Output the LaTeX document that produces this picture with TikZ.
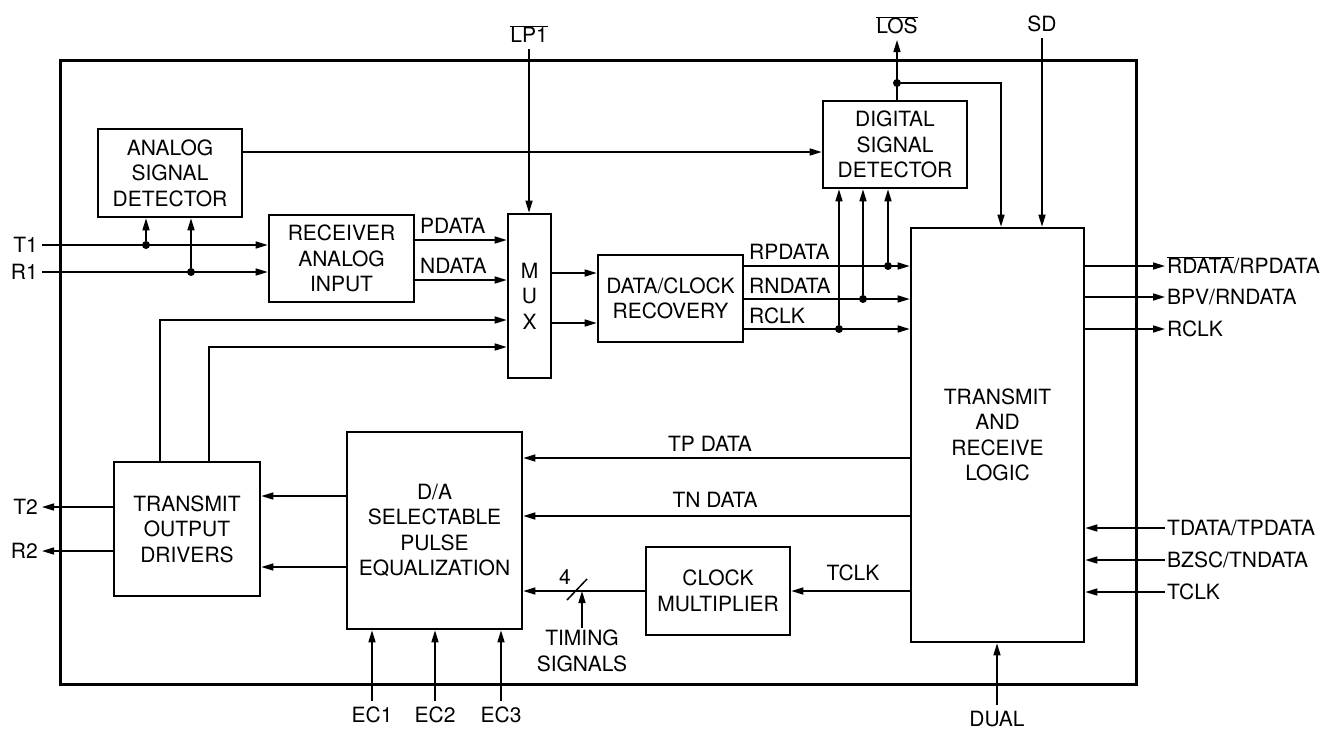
\documentclass[tikz,border=0pt]{standalone}
\usepackage{fontspec}
\setmainfont{TeX Gyre Heros}
\usetikzlibrary{arrows.meta}

\begin{document}
\begin{tikzpicture}[
    x=1pt, y=-1pt,
    every node/.style={font=\fontsize{21}{25.5}\selectfont},
    block/.style={rectangle, draw=black, line width=2.6pt, align=center, inner sep=0pt},
    frame/.style={draw=black, line width=3pt},
    arrow/.style={-{Triangle[length=12pt, width=7pt]}, line width=1.5pt},
    wire/.style={line width=1.5pt},
    dot/.style={circle, fill=black, inner sep=0pt, minimum size=8pt},
    pinl/.style={anchor=east, inner xsep=4pt, inner ysep=0pt, text height=15pt, text depth=0pt},
    pinr/.style={anchor=west, inner xsep=2pt, inner ysep=0pt, text height=15pt, text depth=0pt},
    pint/.style={anchor=south, inner xsep=0pt, inner ysep=6pt, text height=15pt, text depth=0pt},
    pinb/.style={anchor=north, inner xsep=0pt, inner ysep=6pt, text height=15pt, text depth=0pt},
    tag/.style={inner sep=0pt, anchor=base west}
]
\useasboundingbox (0,0) rectangle (1330,732);

% Chip outline
\draw[frame] (60,60) rectangle (1136,684);

% Blocks
\node[block, minimum width=144pt, minimum height=88pt] (asd) at (170,173) {ANALOG\\SIGNAL\\DETECTOR};
\node[block, minimum width=145pt, minimum height=87pt] (rai) at (341.5,258.5) {RECEIVER\\ANALOG\\INPUT};
\node[block, minimum width=43pt, minimum height=164pt] (mux) at (529.5,296) {M\\U\\X};
\node[block, minimum width=145pt, minimum height=87pt] (dcr) at (670.5,298.5) {DATA/CLOCK\\RECOVERY};
\node[block, minimum width=144pt, minimum height=87pt] (dsd) at (895,144.5) {DIGITAL\\SIGNAL\\DETECTOR};
\node[block, minimum width=173pt, minimum height=414pt] (trl) at (997.5,435) {TRANSMIT\\AND\\RECEIVE\\LOGIC};
\node[block, minimum width=175pt, minimum height=197pt] (dspe) at (434.5,530.5) {D/A\\SELECTABLE\\PULSE\\EQUALIZATION};
\node[block, minimum width=146pt, minimum height=134pt] (tod) at (187,529) {TRANSMIT\\OUTPUT\\DRIVERS};
\node[block, minimum width=144pt, minimum height=88pt] (cm) at (718,591) {CLOCK\\MULTIPLIER};

% Pins
\node[pinl] (T1) at (42,245) {T1};
\node[pinl] (R1) at (42,272) {R1};
\node[pinl] (T2) at (42,507) {T2};
\node[pinl] (R2) at (42,551) {R2};
\node[pint] (LP1) at (529,49) {$\overline{\hbox{LP1}}$};
\node[pint] (LOS) at (897,40) {$\overline{\hbox{LOS}}$};
\node[pint] (SD) at (1042,38) {SD};
\node[pinr] (RDATA) at (1165,266) {$\overline{\hbox{RDATA}}$/RPDATA};
\node[pinr] (BPV) at (1165,297) {BPV/RNDATA};
\node[pinr] (RCLK) at (1165,329) {RCLK};
\node[pinr] (TDATA) at (1165,528) {TDATA/TPDATA};
\node[pinr] (BZSC) at (1165,560) {BZSC/TNDATA};
\node[pinr] (TCLK) at (1165,592) {TCLK};
\node[pinb] (EC1) at (372,701) {EC1};
\node[pinb] (EC2) at (435,701) {EC2};
\node[pinb] (EC3) at (501,701) {EC3};
\node[pinb] (DUAL) at (997,705) {DUAL};

% Junctions
\node[dot] (jt1) at (146,245) {};
\node[dot] (jr1) at (191,272) {};
\node[dot] (jrp) at (888,266) {};
\node[dot] (jrn) at (863,299) {};
\node[dot] (jrc) at (839,329) {};
\node[dot] (jlos) at (897,83) {};

% Receive path
\draw[arrow] (T1.east) -- (rai.west |- T1.east);
\draw[arrow] (R1.east) -- (rai.west |- R1.east);
\draw[arrow] (jt1) -- (asd.south -| jt1);
\draw[arrow] (jr1) -- (asd.south -| jr1);
\draw[arrow] (asd.east |- 0,152) -- (dsd.west |- 0,152);
\draw[arrow] (rai.east |- 0,240) -- (mux.west |- 0,240);
\draw[arrow] (rai.east |- 0,280) -- (mux.west |- 0,280);
\node[tag] (pdata) at (420,233) {PDATA};
\node[tag] (ndata) at (420,273) {NDATA};
\draw[arrow] (LP1.south) -- (LP1.south |- mux.north);
\draw[arrow] (tod.north -| 160,0) |- (mux.west |- 0,320);
\draw[arrow] (tod.north -| 209,0) |- (mux.west |- 0,347);
\draw[arrow] (mux.east |- 0,273) -- (dcr.west |- 0,273);
\draw[arrow] (mux.east |- 0,323) -- (dcr.west |- 0,323);
\draw[arrow] (dcr.east |- jrp) -- (trl.west |- jrp);
\draw[arrow] (dcr.east |- jrn) -- (trl.west |- jrn);
\draw[arrow] (dcr.east |- jrc) -- (trl.west |- jrc);
\node[tag] (rpdata) at (749,259) {RPDATA};
\node[tag] (rndata) at (749,293) {RNDATA};
\node[tag] (rclk) at (749,323) {RCLK};
\draw[arrow] (jrp) -- (dsd.south -| jrp);
\draw[arrow] (jrn) -- (dsd.south -| jrn);
\draw[arrow] (jrc) -- (dsd.south -| jrc);
\draw[arrow] (dsd.north -| LOS.south) -- (LOS.south);
\draw[arrow] (jlos) -| (trl.north -| 1001,0);
\draw[arrow] (SD.south) -- (SD.south |- trl.north);
\draw[arrow] (trl.east |- RDATA.west) -- (RDATA.west);
\draw[arrow] (trl.east |- BPV.west) -- (BPV.west);
\draw[arrow] (trl.east |- RCLK.west) -- (RCLK.west);

% Transmit path
\draw[arrow] (TDATA.west) -- (trl.east |- TDATA.west);
\draw[arrow] (BZSC.west) -- (trl.east |- BZSC.west);
\draw[arrow] (TCLK.west) -- (trl.east |- TCLK.west);
\draw[arrow] (DUAL.north) -- (DUAL.north |- trl.south);
\draw[arrow] (trl.west |- 0,458) -- (dspe.east |- 0,458);
\draw[arrow] (trl.west |- 0,516) -- (dspe.east |- 0,516);
\draw[arrow] (trl.west |- cm.east) -- (cm.east);
\node[tag, anchor=base] (tpdata) at (710,451) {TP DATA};
\node[tag, anchor=base] (tndata) at (715,507) {TN DATA};
\node[tag, anchor=base] (tclk) at (853,580) {TCLK};
\draw[arrow] (cm.west) -- (dspe.east |- cm.west);
\node[anchor=north, align=center, inner sep=2pt] (timing) at (582,628) {TIMING\\SIGNALS};
\draw[arrow] (timing.north) -- (timing.north |- cm.west);
\draw[wire] (timing.north |- cm.west) ++(-15,9) -- ++(20,-21);
\node[tag, anchor=base] (four) at (565,584) {4};
\draw[arrow] (dspe.west |- 0,496) -- (tod.east |- 0,496);
\draw[arrow] (dspe.west |- 0,567) -- (tod.east |- 0,567);
\draw[arrow] (tod.west |- T2.east) -- (T2.east);
\draw[arrow] (tod.west |- R2.east) -- (R2.east);
\draw[arrow] (EC1.north) -- (EC1.north |- dspe.south);
\draw[arrow] (EC2.north) -- (EC2.north |- dspe.south);
\draw[arrow] (EC3.north) -- (EC3.north |- dspe.south);

\end{tikzpicture}
\end{document}
